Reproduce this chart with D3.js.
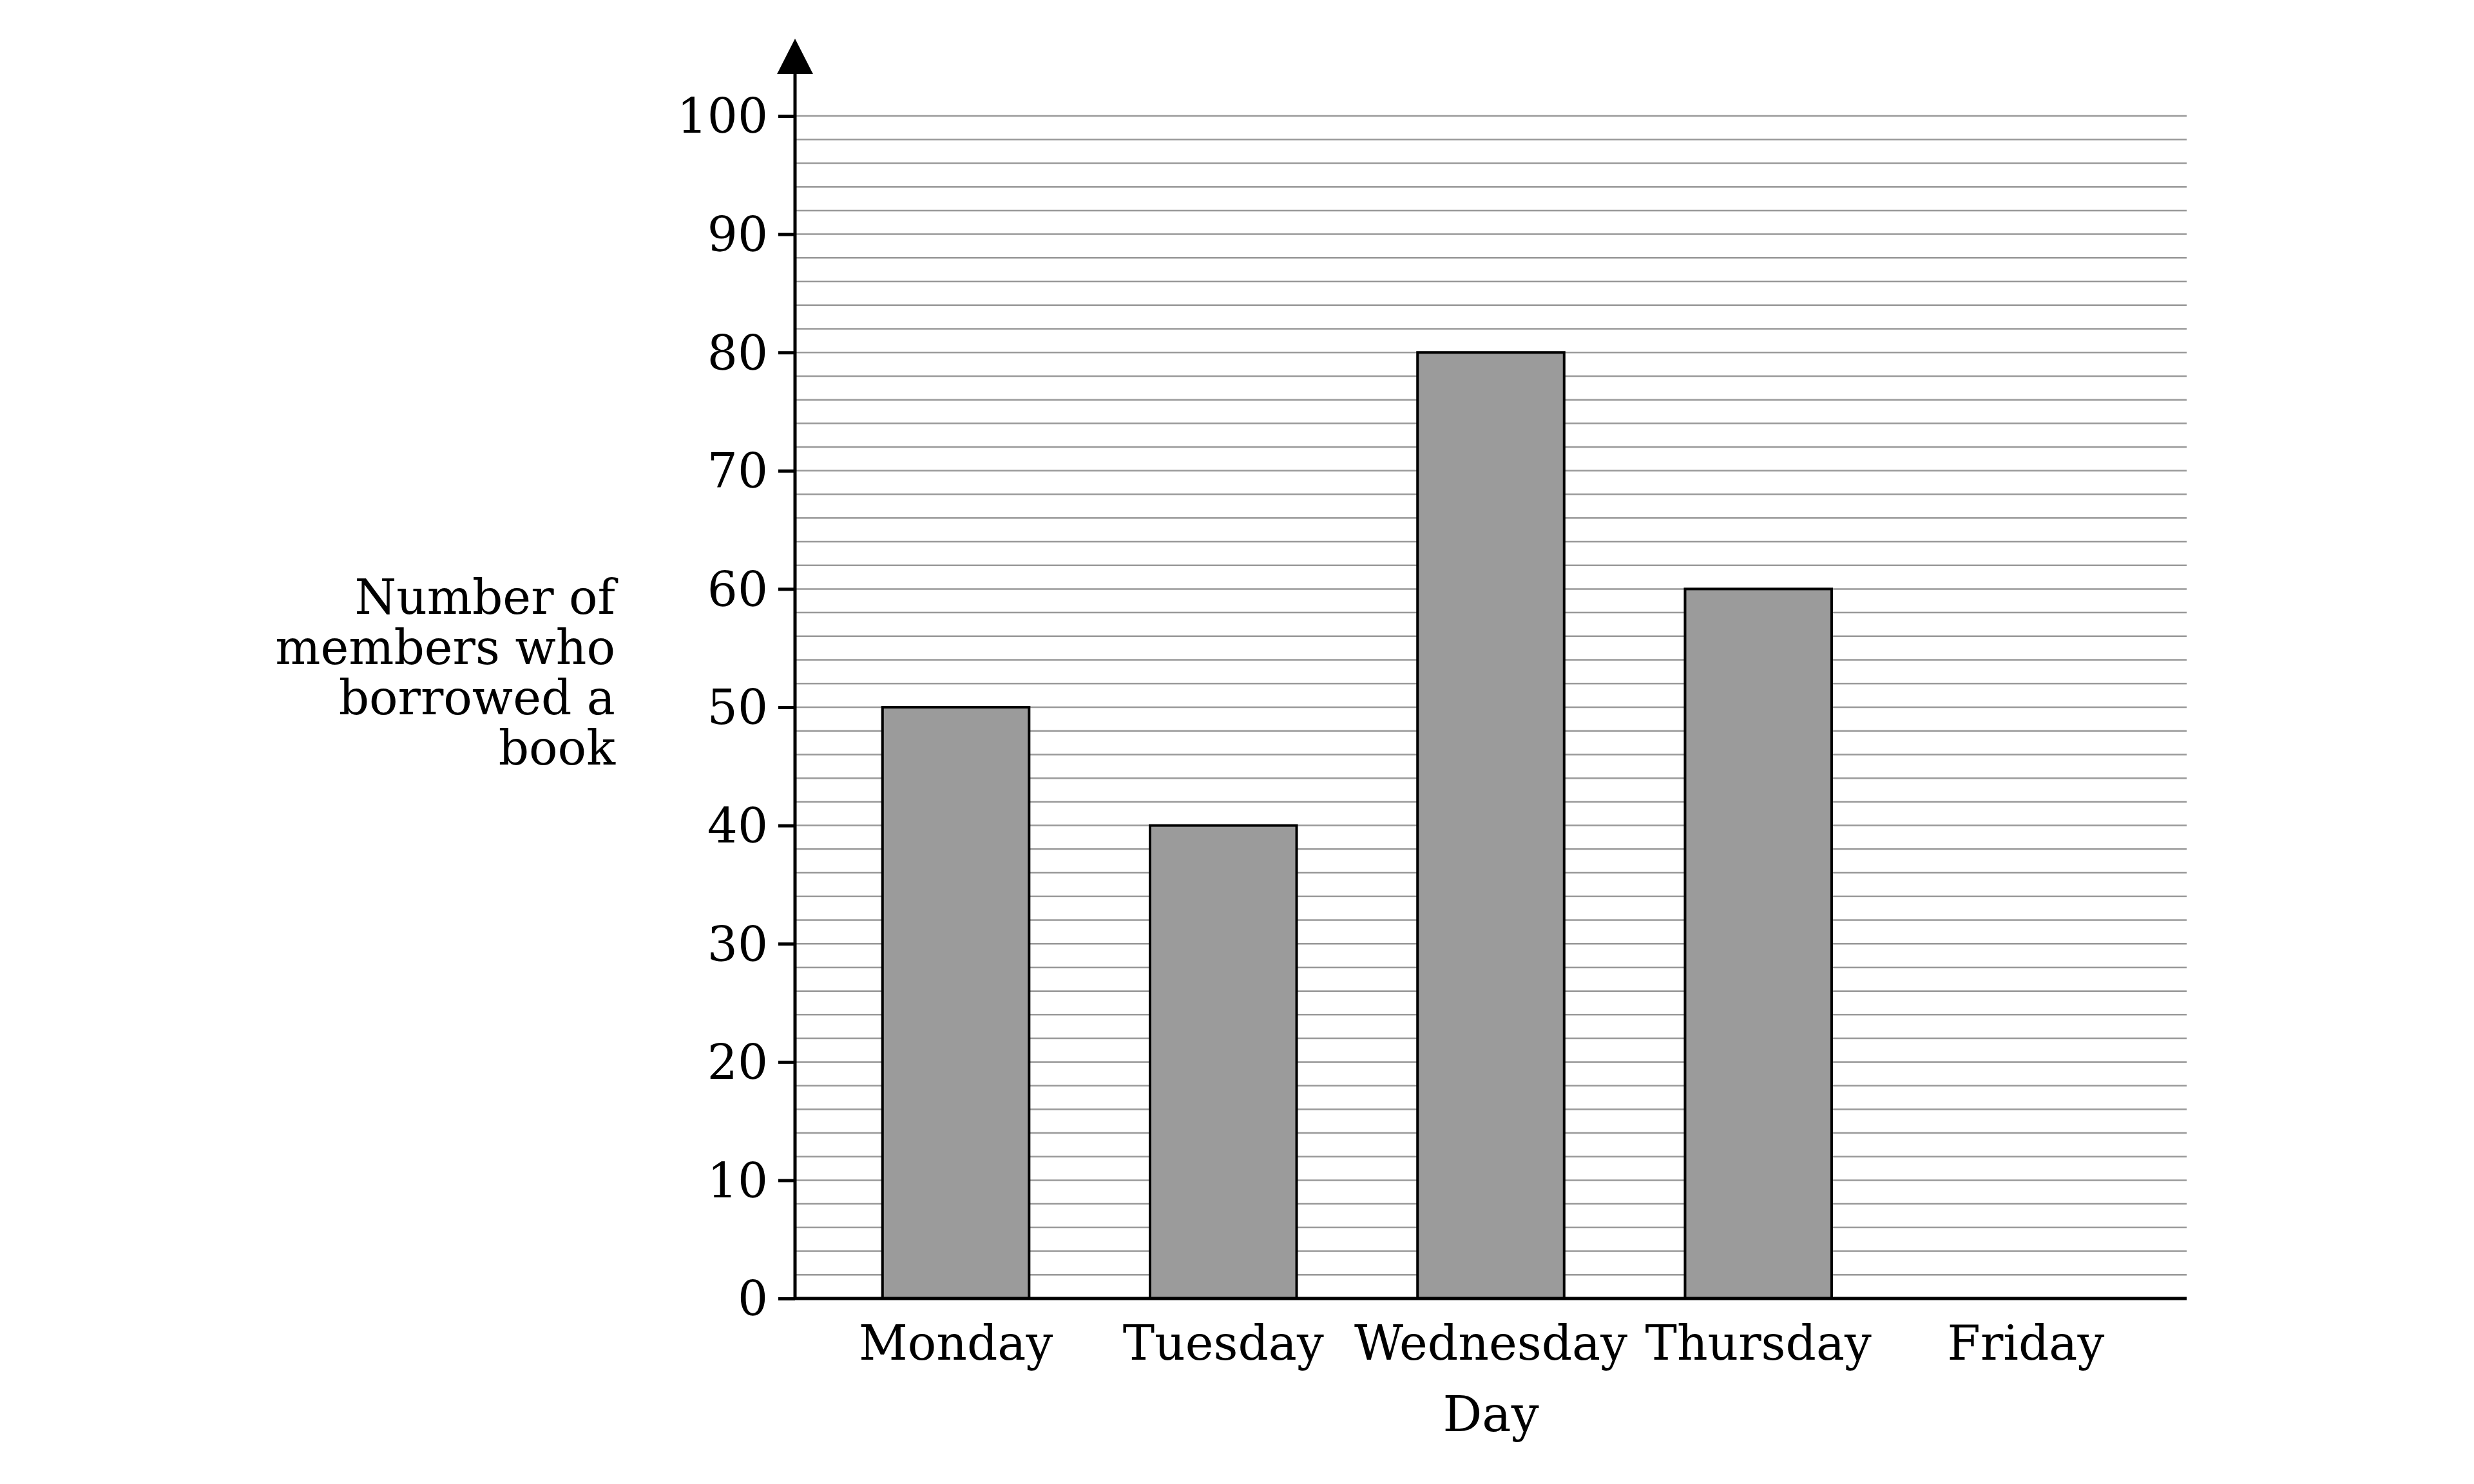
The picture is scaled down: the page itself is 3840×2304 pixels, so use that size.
<!DOCTYPE html>
<html>
<head>
<meta charset="utf-8">
<script src="https://cdn.jsdelivr.net/npm/d3@7"></script>
<style>
  body { margin: 0; background: #fff; }
  text { font-family: "DejaVu Serif", serif; fill: #000; }
</style>
</head>
<body>
<svg id="chart" width="3840" height="2304"></svg>
<script>
// data
const days = ["Monday", "Tuesday", "Wednesday", "Thursday", "Friday"];
const borrowed = [50, 40, 80, 60, 0];
const yTicks = [0, 10, 20, 30, 40, 50, 60, 70, 80, 90, 100];
const yTitleLines = ["Number of", "members who", "borrowed a", "book"];

const svg = d3.select("#chart");
const plotLeft = 1234, plotRight = 3394, plotTop = 180, plotBottom = 2016;

const x = d3.scaleBand().domain(days).range([plotLeft, plotRight])
    .paddingInner(0.452).paddingOuter(0.327);
const y = d3.scaleLinear().domain([0, 100]).range([plotBottom, plotTop]);

// grid lines every 2
svg.append("g")
    .selectAll("line")
    .data(d3.range(2, 101, 2))
    .join("line")
    .attr("x1", plotLeft).attr("x2", plotRight)
    .attr("y1", d => y(d)).attr("y2", d => y(d))
    .attr("stroke", "#999")
    .attr("stroke-width", 2.5);

// bars (Friday is 0, nothing drawn)
svg.append("g")
    .selectAll("rect")
    .data(days.map((d, i) => ({ day: d, v: borrowed[i] })).filter(d => d.v > 0))
    .join("rect")
    .attr("x", d => x(d.day))
    .attr("width", x.bandwidth())
    .attr("y", d => y(d.v))
    .attr("height", d => y(0) - y(d.v))
    .attr("fill", "#9b9b9b")
    .attr("stroke", "#000")
    .attr("stroke-width", 4);

// y axis
const yAxis = svg.append("g")
    .attr("transform", `translate(${plotLeft},0)`)
    .call(d3.axisLeft(y).tickValues(yTicks).tickSize(26).tickPadding(16));
yAxis.select(".domain").remove();
yAxis.selectAll(".tick line").attr("stroke-width", 5);
yAxis.selectAll(".tick text")
    .style("font-family", "DejaVu Serif").attr("font-size", 74).attr("dy", "0.35em");

svg.append("line")
    .attr("x1", plotLeft).attr("x2", plotLeft)
    .attr("y1", plotBottom + 2).attr("y2", 115)
    .attr("stroke", "#000").attr("stroke-width", 5);
svg.append("path")
    .attr("d", `M${plotLeft - 28},115 L${plotLeft},60 L${plotLeft + 28},115 Z`)
    .attr("fill", "#000");

// x axis
svg.append("line")
    .attr("x1", plotLeft - 2).attr("x2", plotRight)
    .attr("y1", plotBottom).attr("y2", plotBottom)
    .attr("stroke", "#000").attr("stroke-width", 5);
svg.append("g")
    .selectAll("text")
    .data(days)
    .join("text")
    .attr("x", d => x(d) + x.bandwidth() / 2)
    .attr("y", 2111)
    .attr("text-anchor", "middle")
    .attr("font-size", 74)
    .text(d => d);

// titles
svg.append("text")
    .attr("x", 2314).attr("y", 2222)
    .attr("text-anchor", "middle")
    .attr("font-size", 76)
    .text("Day");

svg.append("g")
    .selectAll("text")
    .data(yTitleLines)
    .join("text")
    .attr("x", 955)
    .attr("y", (d, i) => 953 + i * 78)
    .attr("text-anchor", "end")
    .attr("font-size", 74)
    .text(d => d);
</script>
</body>
</html>
